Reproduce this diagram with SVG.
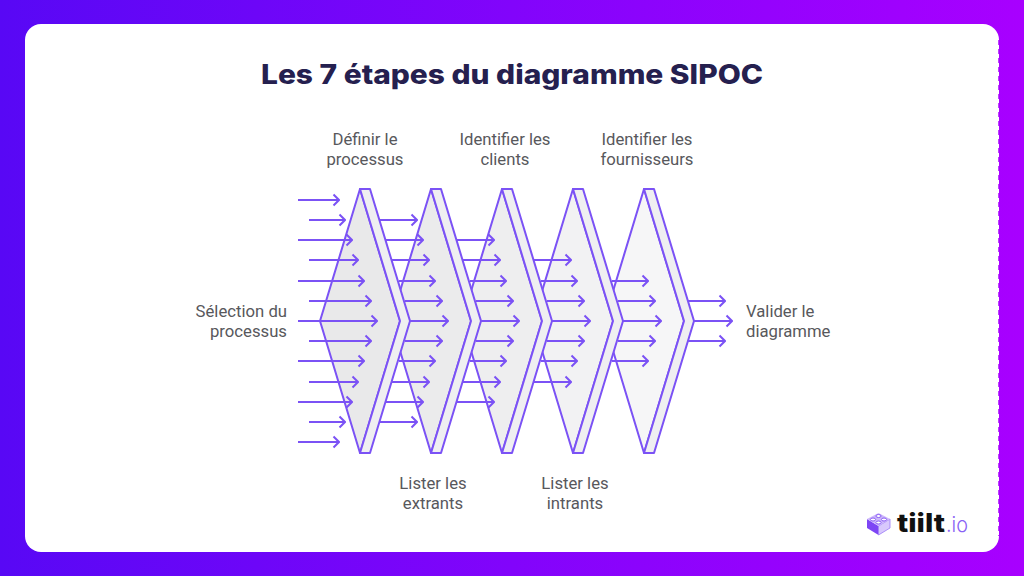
<svg xmlns="http://www.w3.org/2000/svg" width="1024" height="576" viewBox="0 0 1024 576">
<defs>
<linearGradient id="bg" x1="0" y1="0" x2="1" y2="0"><stop offset="0" stop-color="#5808f5"/><stop offset="0.5" stop-color="#8204fb"/><stop offset="1" stop-color="#a800ff"/></linearGradient>
<marker id="ah" viewBox="0 0 10 14" refX="9" refY="7" markerWidth="10" markerHeight="14" markerUnits="userSpaceOnUse" orient="auto"><path d="M3.5 1.5L9 7L3.5 12.5" fill="none" stroke="#7b52f5" stroke-width="2"/></marker>
<g id="chev"><polygon class="band" points="0,0 10,0 50,132 10,264 0,264 40,132"/></g>
</defs>
<style>
.lbl{font-family:"Roboto","Liberation Sans",sans-serif;font-size:16.7px;fill:#58585c}
.ttl{font-family:"Inter","Liberation Sans",sans-serif;font-size:27px;font-weight:800;fill:#25204f}
.edge{stroke:#7b52f5;stroke-width:2;stroke-linejoin:round}
.band{fill:#efeff1;stroke:#7b52f5;stroke-width:2;stroke-linejoin:round}
.arr line{stroke:#7b52f5;stroke-width:2;marker-end:url(#ah)}
</style>
<rect width="1024" height="576" fill="url(#bg)"/>
<rect x="25" y="24" width="974" height="528" rx="16" fill="#fff"/>
<line x1="999" y1="40" x2="999" y2="536" stroke="#a800ff" stroke-width="1.5" stroke-dasharray="5 4"/>
<text class="ttl" x="512" y="84" text-anchor="middle" textLength="502" lengthAdjust="spacingAndGlyphs">Les 7 étapes du diagramme SIPOC</text>
<g id="node-5"><polygon class="edge" fill="#f6f6f7" points="644,189 684,321 644,453 604,321"/><use href="#chev" x="644" y="189"/></g>
<g id="node-4"><polygon class="edge" fill="#f2f2f3" points="573,189 613,321 573,453 533,321"/><use href="#chev" x="573" y="189"/></g>
<g id="node-3"><polygon class="edge" fill="#eeeeef" points="502,189 542,321 502,453 462,321"/><use href="#chev" x="502" y="189"/></g>
<g id="node-2"><polygon class="edge" fill="#ebebec" points="431,189 471,321 431,453 391,321"/><use href="#chev" x="431" y="189"/></g>
<g id="node-1"><polygon class="edge" fill="#e9e9ea" points="360,189 400,321 360,453 320,321"/><use href="#chev" x="360" y="189"/></g>
<g id="connectors" class="arr">
<line x1="298" y1="200" x2="339" y2="200"/><line x1="309" y1="220" x2="345" y2="220"/><line x1="298" y1="240" x2="352" y2="240"/><line x1="309" y1="260" x2="358" y2="260"/><line x1="298" y1="281" x2="364" y2="281"/><line x1="309" y1="301" x2="371" y2="301"/><line x1="298" y1="321" x2="377" y2="321"/><line x1="309" y1="341" x2="371" y2="341"/><line x1="298" y1="361" x2="364" y2="361"/><line x1="309" y1="382" x2="358" y2="382"/><line x1="298" y1="402" x2="352" y2="402"/><line x1="309" y1="422" x2="345" y2="422"/><line x1="298" y1="442" x2="339" y2="442"/>
<line x1="380" y1="220" x2="417" y2="220"/><line x1="386" y1="240" x2="423" y2="240"/><line x1="392" y1="260" x2="429" y2="260"/><line x1="399" y1="281" x2="435" y2="281"/><line x1="405" y1="301" x2="442" y2="301"/><line x1="410" y1="321" x2="448" y2="321"/><line x1="405" y1="341" x2="442" y2="341"/><line x1="399" y1="361" x2="435" y2="361"/><line x1="392" y1="382" x2="429" y2="382"/><line x1="386" y1="402" x2="423" y2="402"/><line x1="380" y1="422" x2="417" y2="422"/>
<line x1="457" y1="240" x2="494" y2="240"/><line x1="463" y1="260" x2="500" y2="260"/><line x1="470" y1="281" x2="506" y2="281"/><line x1="476" y1="301" x2="513" y2="301"/><line x1="481" y1="321" x2="519" y2="321"/><line x1="476" y1="341" x2="513" y2="341"/><line x1="470" y1="361" x2="506" y2="361"/><line x1="463" y1="382" x2="500" y2="382"/><line x1="457" y1="402" x2="494" y2="402"/>
<line x1="534" y1="260" x2="571" y2="260"/><line x1="541" y1="281" x2="577" y2="281"/><line x1="547" y1="301" x2="584" y2="301"/><line x1="552" y1="321" x2="590" y2="321"/><line x1="547" y1="341" x2="584" y2="341"/><line x1="541" y1="361" x2="577" y2="361"/><line x1="534" y1="382" x2="571" y2="382"/>
<line x1="612" y1="281" x2="648" y2="281"/><line x1="618" y1="301" x2="655" y2="301"/><line x1="623" y1="321" x2="661" y2="321"/><line x1="618" y1="341" x2="655" y2="341"/><line x1="612" y1="361" x2="648" y2="361"/>
<line x1="688" y1="301" x2="725" y2="301"/><line x1="693" y1="321" x2="732" y2="321"/><line x1="688" y1="341" x2="725" y2="341"/>
</g>
<g id="labels">
<text class="lbl" text-anchor="middle" x="365" y="145">Définir le</text><text class="lbl" text-anchor="middle" x="365" y="165">processus</text>
<text class="lbl" text-anchor="middle" x="505" y="145">Identifier les</text><text class="lbl" text-anchor="middle" x="505" y="165">clients</text>
<text class="lbl" text-anchor="middle" x="647" y="145">Identifier les</text><text class="lbl" text-anchor="middle" x="647" y="165">fournisseurs</text>
<text class="lbl" text-anchor="end" x="287" y="317">Sélection du</text><text class="lbl" text-anchor="end" x="287" y="337">processus</text>
<text class="lbl" x="746" y="317">Valider le</text><text class="lbl" x="746" y="337">diagramme</text>
<text class="lbl" text-anchor="middle" x="433" y="489">Lister les</text><text class="lbl" text-anchor="middle" x="433" y="509">extrants</text>
<text class="lbl" text-anchor="middle" x="575" y="489">Lister les</text><text class="lbl" text-anchor="middle" x="575" y="509">intrants</text>
</g>
<g id="logo">
<polygon points="867,519 878.5,526 878.5,535 867,528" fill="#7d45f5"/>
<polygon points="878.5,526 890,519 890,528 878.5,535" fill="#d8c8fc" stroke="#9a78f8" stroke-width="0.8"/>
<polygon points="878.5,513 890,519 878.5,526 867,519" fill="#cdb8fb"/>
<ellipse cx="878.5" cy="516" rx="2.6" ry="1.5" fill="#fff" stroke="#8a5cf5"/><ellipse cx="873" cy="519.5" rx="2.6" ry="1.5" fill="#fff" stroke="#8a5cf5"/><ellipse cx="884" cy="519.5" rx="2.6" ry="1.5" fill="#fff" stroke="#8a5cf5"/><ellipse cx="878.5" cy="522.5" rx="2.6" ry="1.5" fill="#fff" stroke="#8a5cf5"/>
<text x="897" y="532" font-family="Inter,'Liberation Sans',sans-serif" font-size="26" font-weight="800" fill="#111" textLength="48" lengthAdjust="spacingAndGlyphs">tiilt</text>
<text x="946" y="532" font-family="Inter,'Liberation Sans',sans-serif" font-size="22" font-weight="300" fill="#8a62f5" textLength="22" lengthAdjust="spacingAndGlyphs">.io</text>
</g>
</svg>
